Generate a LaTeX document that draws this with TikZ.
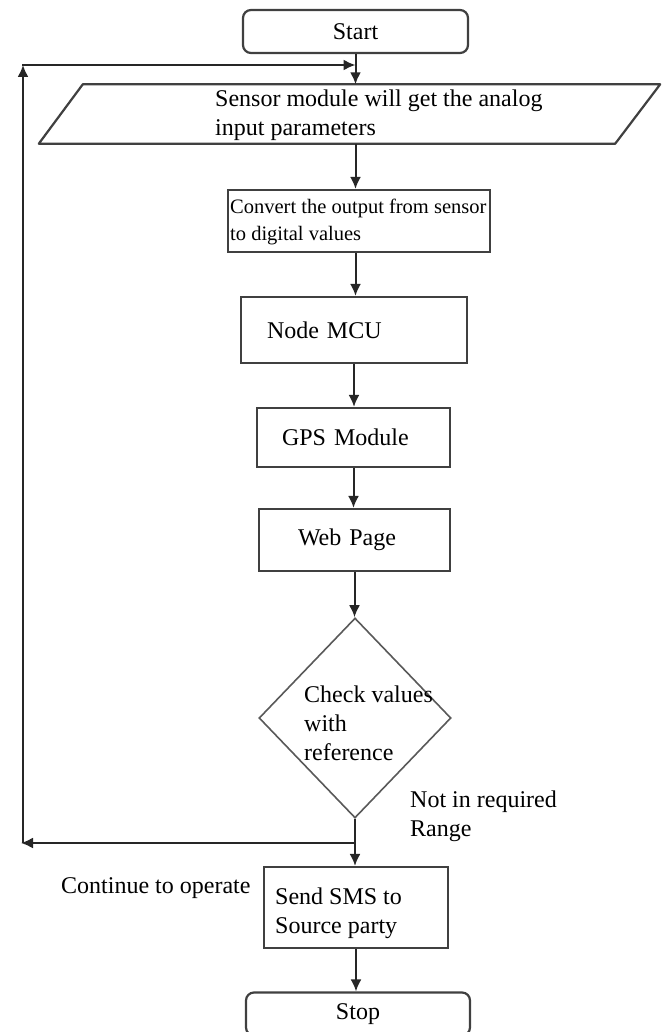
\documentclass[tikz,border=0pt]{standalone}
\usepackage{fontspec}
\setmainfont{Liberation Serif}
\usetikzlibrary{shapes.geometric,arrows.meta}
\newcommand\boxfont{\fontsize{24}{29}\selectfont}
\newcommand\narrowfont{\fontsize{20.5}{27}\selectfont}
\begin{document}
\begin{tikzpicture}[x=1pt,y=-1pt,
  stepbox/.style={draw=black!75, line width=2.2pt, rectangle, inner sep=0pt, font=\boxfont, align=left},
  termbox/.style={stepbox, rounded corners=8pt, align=center},
  txt/.style={font=\boxfont, align=left, anchor=west, inner sep=0pt},
  arr/.style={-{Latex[length=12pt,width=11pt]}, line width=2pt, draw=black!85}]
\useasboundingbox[fill=white] (0,0) rectangle (664,1032);

% nodes
\node[termbox, minimum width=225pt, minimum height=43pt] (start) at (355.5,31.5) {Start};
\node[rectangle, draw=none, minimum width=576pt, minimum height=59pt, inner sep=0pt] (sensor) at (327,114) {};
\draw[draw=black!75, line width=2.2pt, line join=round]
  (sensor.south west) -- (sensor.south east) -- ([xshift=45pt]sensor.north east)
  -- ([xshift=44pt]sensor.north west) -- cycle;
\node[txt] (sensortxt) at (215,115) {Sensor module will get the analog\\input parameters};

\node[stepbox, minimum width=262pt, minimum height=62pt] (convert) at (359,221) {};
\node[txt, font=\narrowfont] (converttxt) at (230,221.5) {Convert the output from sensor\\to digital values};
\node[stepbox, minimum width=226pt, minimum height=66pt, text width=174pt] (mcu) at (354,330) {Node MCU};
\node[stepbox, minimum width=193pt, minimum height=59pt, text width=143pt] (gps) at (353.5,437.5) {GPS Module};
\node[stepbox, minimum width=191pt, minimum height=62pt, text width=113pt] (web) at (354.5,540) {Web Page};
\node[diamond, draw=black!65, line width=1.6pt, minimum width=192pt, minimum height=200pt, inner sep=0pt, aspect=0.96] (check) at (355,718) {};
\node[txt] (checktxt) at (304,723) {Check values\\with\\reference};
\node[txt] (range) at (410,816.5) {Not in required\\Range};
\node[stepbox, minimum width=184pt, minimum height=81pt] (sms) at (356,907.5) {};
\node[txt] (smstxt) at (275,913.5) {Send SMS to\\Source party};
\node[txt] (cont) at (61,888) {Continue to operate};
\node[termbox, minimum width=224pt, minimum height=43pt] (stop) at (358,1014) {Stop};

\coordinate (fbbl) at (21,843);
\coordinate (fbtl) at (23,65);

% connectors
\draw[arr] (start.south) -- (start.south |- sensor.north);
\draw[arr] (start.south |- sensor.south) -- (start.south |- convert.north);
\draw[arr] (start.south |- convert.south) -- (start.south |- mcu.north);
\draw[arr] (mcu.south) -- (mcu.south |- gps.north);
\draw[arr] (gps.south) -- (gps.south |- web.north);
\draw[arr] (web.south) -- (web.south |- check.north);
\draw[arr] (check.south) -- (check.south |- sms.north);
\draw[arr] (sms.south) -- (sms.south |- stop.north);
% feedback loop
\draw[arr] (check.south |- fbbl) -- (fbbl);
\draw[arr] ([xshift=2pt]fbbl) -- (fbtl);
\draw[arr] ([xshift=-1pt]fbtl) -- (start.south |- fbtl);
\end{tikzpicture}
\end{document}
